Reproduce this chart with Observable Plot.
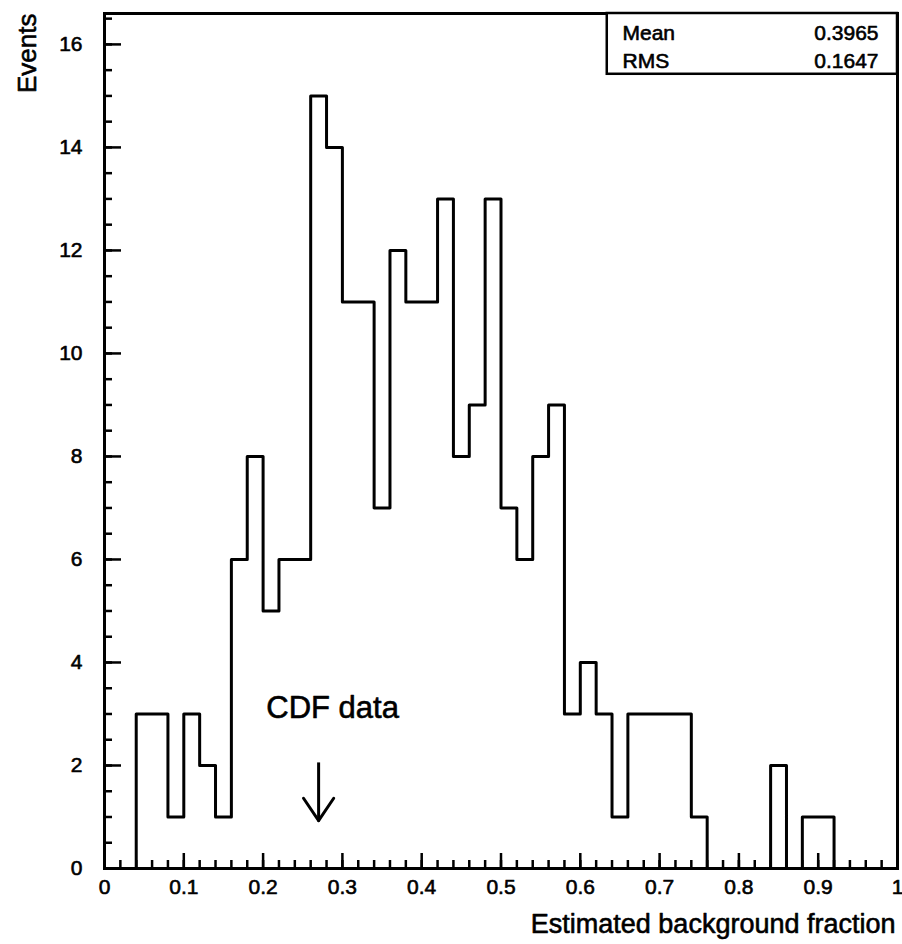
<!DOCTYPE html>
<html>
<head>
<meta charset="utf-8">
<script src="https://cdn.jsdelivr.net/npm/d3@7"></script>
<script src="https://cdn.jsdelivr.net/npm/@observablehq/plot@0.6"></script>
<style>
  html, body { margin: 0; padding: 0; background: #fff; }
  #chart svg { display: block; }
</style>
</head>
<body>
<div id="chart"></div>
<script>
// ---- Data (bin width 0.02) ----
const binLowEdges = [
  0.00, 0.02, 0.04, 0.06, 0.08, 0.10, 0.12, 0.14, 0.16, 0.18,
  0.20, 0.22, 0.24, 0.26, 0.28, 0.30, 0.32, 0.34, 0.36, 0.38,
  0.40, 0.42, 0.44, 0.46, 0.48, 0.50, 0.52, 0.54, 0.56, 0.58,
  0.60, 0.62, 0.64, 0.66, 0.68, 0.70, 0.72, 0.74, 0.76, 0.78,
  0.80, 0.82, 0.84, 0.86, 0.88, 0.90, 0.92, 0.94, 0.96, 0.98
];
const binUpperEdge = 1.00;
const counts = [
  0, 0, 3, 3, 1, 3, 2, 1, 6, 8,
  5, 6, 6, 15, 14, 11, 11, 7, 12, 11,
  11, 13, 8, 9, 13, 7, 6, 8, 9, 3,
  4, 3, 1, 3, 3, 3, 3, 1, 0, 0,
  0, 0, 2, 0, 1, 1, 0, 0, 0, 0
];

const statNames = ["Mean", "RMS"];
const statValues = ["0.3965", "0.1647"];

const cdfMarker = [{ x: 0.27, label: "CDF data" }];

const xTickValues = [0, 0.1, 0.2, 0.3, 0.4, 0.5, 0.6, 0.7, 0.8, 0.9, 1];
const xTickLabels = ["0", "0.1", "0.2", "0.3", "0.4", "0.5", "0.6", "0.7", "0.8", "0.9", "1"];
const yTickValues = [0, 2, 4, 6, 8, 10, 12, 14, 16];
const yTickLabels = ["0", "2", "4", "6", "8", "10", "12", "14", "16"];

const xTitle = "Estimated background fraction";
const yTitle = "Events";

// ---- Layout ----
const W = 902, H = 944;
const mL = 104, mR = 5, mT = 13, mB = 76;
const frameW = W - mL - mR, frameH = H - mT - mB;

// step outline of the histogram
const steps = binLowEdges.map((x, i) => ({ x, y: counts[i] }));
steps.push({ x: binUpperEdge, y: 0 });

const xMinor = d3.range(0, 51).map(i => i * 0.02);
const yMinor = d3.range(0, 34).map(i => i * 0.5);

const wing = { draw(context, l) { context.moveTo(0, 0); context.lineTo(0, -l); } };

const textInk = { fill: "black", stroke: "black", strokeWidth: 0.6 };

const statMarks = statNames.flatMap((name, i) => [
  Plot.text([name], { text: d => d, frameAnchor: "top-left", textAnchor: "start", lineAnchor: "bottom", dx: 518, dy: 26 + i * 28, fontSize: 21, ...textInk }),
  Plot.text([statValues[i]], { text: d => d, frameAnchor: "top-right", textAnchor: "end", lineAnchor: "bottom", dx: -19, dy: 26 + i * 28, fontSize: 21, ...textInk })
]);

const chart = Plot.plot({
  width: W, height: H,
  marginLeft: mL, marginRight: mR, marginTop: mT, marginBottom: mB,
  x: { domain: [0, 1], axis: null },
  y: { domain: [0, 16.6], axis: null },
  style: { fontFamily: "'Liberation Sans', Arial, sans-serif", fontSize: "20px", background: "white", color: "black" },
  marks: [
    // inward tick marks
    Plot.tickX(xMinor, { x: d => d, insetTop: frameH - 8, stroke: "black", strokeWidth: 2.5 }),
    Plot.tickX(xTickValues, { x: d => d, insetTop: frameH - 15, stroke: "black", strokeWidth: 2.5 }),
    Plot.tickY(yMinor, { y: d => d, insetRight: frameW - 8, stroke: "black", strokeWidth: 2.5 }),
    Plot.tickY(yTickValues, { y: d => d, insetRight: frameW - 17, stroke: "black", strokeWidth: 2.5 }),
    // histogram outline
    Plot.line(steps, { x: "x", y: "y", curve: "step-after", stroke: "black", strokeWidth: 3 }),
    Plot.frame({ stroke: "black", strokeWidth: 3 }),
    // tick labels
    Plot.text(xTickValues, { x: d => d, text: (d, i) => xTickLabels[i], frameAnchor: "bottom", lineAnchor: "top", dy: 11, fontSize: 21, ...textInk }),
    Plot.text(yTickValues, { y: d => d, text: (d, i) => yTickLabels[i], frameAnchor: "left", textAnchor: "end", dx: -22, fontSize: 21, ...textInk }),
    // titles
    Plot.text([xTitle], { text: d => d, frameAnchor: "bottom-right", textAnchor: "end", lineAnchor: "bottom", dx: -2, dy: 64, fontSize: 27, ...textInk }),
    Plot.text([yTitle], { text: d => d, frameAnchor: "top-left", rotate: -90, textAnchor: "end", dx: -87, dy: 0, fontSize: 26, ...textInk }),
    // statistics box
    Plot.rect([0], { x1: 0.634, x2: 1, y1: 15.42, y2: 16.6, fill: "white", stroke: "black", strokeWidth: 2.5 }),
    ...statMarks,
    // CDF annotation
    Plot.text(cdfMarker, { x: "x", y: () => 2.93, text: "label", dx: 14, lineAnchor: "bottom", fontSize: 31, ...textInk }),
    Plot.ruleX(cdfMarker, { x: "x", y1: 0.93, y2: 2.05, stroke: "black", strokeWidth: 3 }),
    Plot.vector(cdfMarker, { x: "x", y: () => 0.93, length: 27, rotate: -34, anchor: "start", shape: wing, stroke: "black", strokeWidth: 3 }),
    Plot.vector(cdfMarker, { x: "x", y: () => 0.93, length: 27, rotate: 34, anchor: "start", shape: wing, stroke: "black", strokeWidth: 3 })
  ]
});

document.getElementById("chart").appendChild(chart);
</script>
</body>
</html>
